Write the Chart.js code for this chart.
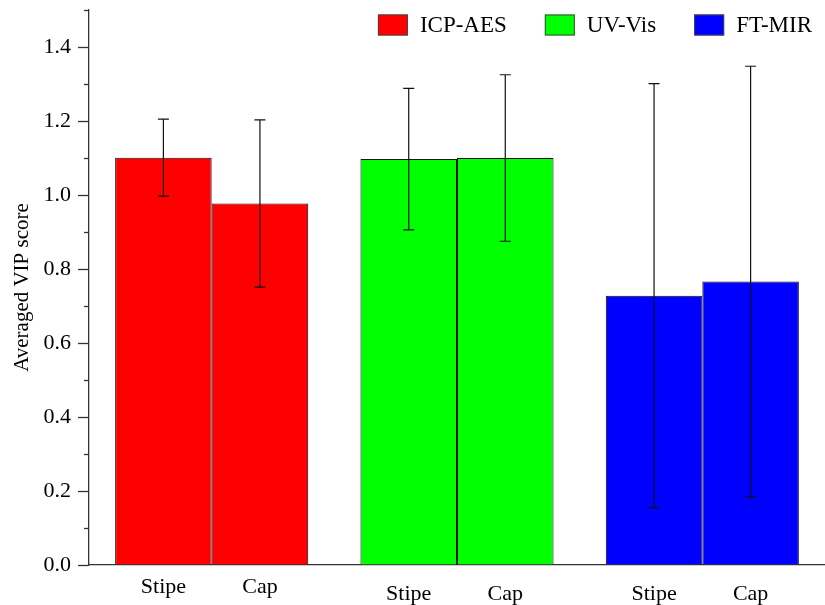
<!DOCTYPE html>
<html>
<head>
<meta charset="utf-8">
<title>Averaged VIP score</title>
<script src="https://cdn.jsdelivr.net/npm/chart.js@4.4.1/dist/chart.umd.min.js"></script>
<style>
    html, body { margin: 0; padding: 0; background: #fff; }
    #wrap { width: 825px; height: 605px; }
</style>
</head>
<body>
<div id="wrap"><canvas id="vip-chart" width="825" height="605"></canvas></div>
<script>
// Data
var methods = ['ICP-AES', 'UV-Vis', 'FT-MIR'];
var parts = ['Stipe', 'Cap'];
var stipeVip = [1.101, 1.097, 0.728];
var capVip = [0.977, 1.100, 0.766];
var stipeErr = [0.104, 0.191, 0.573];
var capErr = [0.226, 0.225, 0.582];
var yMajorTicks = [0, 0.2, 0.4, 0.6, 0.8, 1.0, 1.2, 1.4];

var methodColors = ['#ff0000', '#00ff00', '#0000ff'];
var FONT = '"Liberation Serif", "Times New Roman", serif';
var AXIS_COLOR = '#333';

function isMajor(v) {
    return yMajorTicks.some(function(t) { return Math.abs(t - v) < 1e-6; });
}

/**
 * Error bars, minor ticks, part labels and the legend
 */
var decorPlugin = {
    id: 'decor',
    afterDatasetsDraw: function(chart) {
        var ctx = chart.ctx;
        var y = chart.scales.y;
        var errs = [stipeErr, capErr];

        ctx.save();
        ctx.strokeStyle = '#111';
        ctx.lineWidth = 1.2;
        chart.data.datasets.forEach(function(ds, i) {
            var meta = chart.getDatasetMeta(i);
            meta.data.forEach(function(bar, j) {
                var v = ds.data[j];
                var top = y.getPixelForValue(v + errs[i][j]);
                var bot = y.getPixelForValue(v - errs[i][j]);
                ctx.beginPath();
                ctx.moveTo(bar.x, top);
                ctx.lineTo(bar.x, bot);
                ctx.moveTo(bar.x - 5.5, top);
                ctx.lineTo(bar.x + 5.5, top);
                ctx.moveTo(bar.x - 5.5, bot);
                ctx.lineTo(bar.x + 5.5, bot);
                ctx.stroke();
            });
        });
        ctx.restore();
    },
    afterDraw: function(chart) {
        var ctx = chart.ctx;
        var area = chart.chartArea;
        var y = chart.scales.y;

        ctx.save();

        // Minor ticks on the value axis
        ctx.strokeStyle = AXIS_COLOR;
        ctx.lineWidth = 1.3;
        y.ticks.forEach(function(t) {
            if (isMajor(t.value)) return;
            var py = Math.round(y.getPixelForValue(t.value)) + 0.5;
            ctx.beginPath();
            ctx.moveTo(area.left, py);
            ctx.lineTo(area.left - 5, py);
            ctx.stroke();
        });

        // Stipe / Cap under each bar
        var labelDrop = [28, 35, 35];
        ctx.fillStyle = '#000';
        ctx.font = '22px ' + FONT;
        ctx.textAlign = 'center';
        ctx.textBaseline = 'alphabetic';
        chart.data.datasets.forEach(function(ds, i) {
            chart.getDatasetMeta(i).data.forEach(function(bar, j) {
                ctx.fillText(parts[i], bar.x, area.bottom + labelDrop[j]);
            });
        });

        // Legend, top right
        ctx.font = '23px ' + FONT;
        ctx.textAlign = 'left';
        ctx.textBaseline = 'middle';
        var boxW = 30, boxH = 21, gap = 12, spacing = 38;
        var total = 0;
        methods.forEach(function(m, i) {
            total += boxW + gap + ctx.measureText(m).width + (i < methods.length - 1 ? spacing : 0);
        });
        var x = chart.width - 13 - total;
        var cy = 25;
        methods.forEach(function(m, i) {
            ctx.fillStyle = methodColors[i];
            ctx.fillRect(x, cy - boxH / 2, boxW, boxH);
            ctx.strokeStyle = '#444';
            ctx.lineWidth = 1;
            ctx.strokeRect(x + 0.5, cy - boxH / 2 + 0.5, boxW - 1, boxH - 1);
            ctx.fillStyle = '#000';
            ctx.fillText(m, x + boxW + gap, cy + 1);
            x += boxW + gap + ctx.measureText(m).width + spacing;
        });

        ctx.restore();
    }
};

var ctx = document.getElementById('vip-chart').getContext('2d');

new Chart(ctx, {
    type: 'bar',
    data: {
        labels: methods,
        datasets: [{
            label: parts[0],
            data: stipeVip,
            backgroundColor: methodColors,
            borderColor: '#111',
            borderWidth: 1
        }, {
            label: parts[1],
            data: capVip,
            backgroundColor: methodColors,
            borderColor: '#111',
            borderWidth: 1
        }]
    },
    options: {
        responsive: false,
        animation: false,
        devicePixelRatio: 1,
        categoryPercentage: 0.787,
        barPercentage: 1.0,
        layout: {
            padding: { top: 10, right: 0, bottom: 0, left: 0 }
        },
        plugins: {
            legend: { display: false },
            tooltip: { enabled: false }
        },
        scales: {
            x: {
                grid: { display: false },
                border: { color: AXIS_COLOR, width: 1.3 },
                ticks: { display: false },
                afterFit: function(scale) { scale.height = 40; }
            },
            y: {
                min: 0,
                max: 1.5,
                grid: {
                    drawOnChartArea: false,
                    tickLength: 11,
                    tickWidth: 1.3,
                    tickColor: function(c) {
                        return c.tick && isMajor(c.tick.value) ? AXIS_COLOR : 'rgba(0,0,0,0)';
                    }
                },
                border: { color: AXIS_COLOR, width: 1.3 },
                ticks: {
                    stepSize: 0.1,
                    padding: 7,
                    color: '#000',
                    font: { family: FONT, size: 22 },
                    autoSkip: false,
                    callback: function(v) {
                        return isMajor(v) ? v.toFixed(1) : '';
                    }
                },
                title: {
                    display: true,
                    text: 'Averaged VIP score',
                    color: '#000',
                    font: { family: FONT, size: 21 },
                    padding: { top: 10, bottom: 0 }
                },
                afterFit: function(scale) {
                    scale.width = 89;
                    scale.paddingTop = 0;
                    scale.paddingBottom = 0;
                }
            }
        }
    },
    plugins: [decorPlugin]
});
</script>
</body>
</html>
